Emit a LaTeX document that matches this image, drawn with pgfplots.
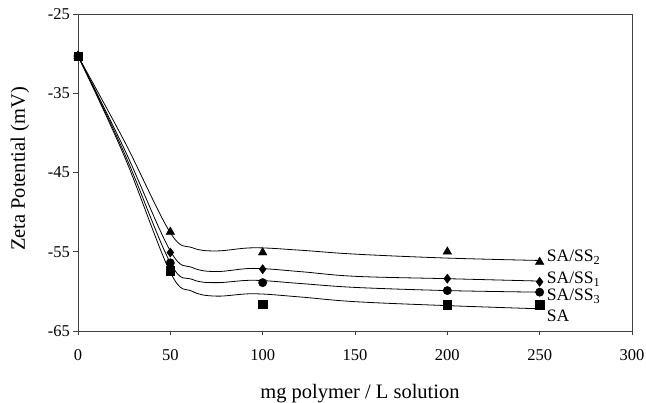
\documentclass[border=0pt]{standalone}
\usepackage{fontspec}
\setmainfont{Liberation Serif}
\usepackage{pgfplots}
\pgfplotsset{compat=1.18}
\begin{document}
\begin{tikzpicture}
\begin{axis}[
  scale only axis, width=554pt, height=317pt,
  xmin=0, xmax=300, ymin=-65, ymax=-25,
  xtick={0,50,...,300}, ytick={-65,-55,-45,-35,-25},
  tick align=outside, xtick pos=bottom, ytick pos=left,
  major tick length=4.5pt,
  tick style={black!75, line width=0.9pt},
  tick label style={font=\fontsize{16.5}{16.5}\selectfont},
  xticklabel style={yshift=-10pt},
  /pgf/number format/assume math mode=true,
  xlabel={mg polymer / L solution}, ylabel={Zeta Potential (mV)},
  label style={font=\fontsize{20.5}{20.5}\selectfont},
  xlabel style={at={(axis description cs:0.509,-0.197)}, anchor=center},
  ylabel style={at={(axis description cs:-0.1047,0.511)}, anchor=center},
  axis line style={black!75, line width=0.9pt},
  clip=false,
]
% fitted curves
\addplot[black, line width=0.8pt, smooth, tension=0.6] coordinates {
 (0,-30.3) (25,-41.0) (50,-52.6) (62,-54.5) (75,-54.9) (95,-54.5) (120,-54.8) (150,-55.3) (200,-55.8) (250,-56.1)};
\addplot[black, line width=0.8pt, smooth, tension=0.6] coordinates {
 (0,-30.3) (25,-42.0) (50,-54.9) (62,-57.0) (75,-57.5) (95,-57.1) (120,-57.5) (150,-58.1) (200,-58.4) (250,-58.7)};
\addplot[black, line width=0.8pt, smooth, tension=0.6] coordinates {
 (0,-30.3) (25,-42.5) (50,-56.4) (62,-58.5) (75,-58.9) (95,-58.6) (120,-59.0) (150,-59.5) (200,-59.9) (250,-60.1)};
\addplot[black, line width=0.8pt, smooth, tension=0.6] coordinates {
 (0,-30.3) (25,-42.9) (50,-57.6) (62,-60.0) (75,-60.6) (95,-60.3) (120,-60.7) (150,-61.3) (200,-61.8) (250,-62.2)};
% data points
\addplot[only marks, mark=triangle*, mark size=5pt, black] coordinates {
 (0,-30.3) (50,-52.5) (100,-55.1) (200,-55.0) (250,-56.3)};
\addplot[only marks, mark=diamond*, mark size=4.6pt, black] coordinates {
 (0,-30.3) (50,-55.1) (100,-57.2) (200,-58.4) (250,-58.8)};
\addplot[only marks, mark=*, mark size=4.2pt, black] coordinates {
 (0,-30.3) (50,-56.4) (100,-58.9) (200,-59.9) (250,-60.1)};
\addplot[only marks, mark=square*, mark size=4.2pt, black] coordinates {
 (0,-30.3) (50,-57.4) (100,-61.6) (200,-61.7) (250,-61.7)};
% labels
\node[anchor=base west, font=\fontsize{17.5}{17.5}\selectfont, inner sep=0pt] at (axis cs:253.8,-56.26) {SA/SS\textsubscript{2}};
\node[anchor=base west, font=\fontsize{17.5}{17.5}\selectfont, inner sep=0pt] at (axis cs:253.8,-59.0) {SA/SS\textsubscript{1}};
\node[anchor=base west, font=\fontsize{17.5}{17.5}\selectfont, inner sep=0pt] at (axis cs:253.8,-61.2) {SA/SS\textsubscript{3}};
\node[anchor=base west, font=\fontsize{17.5}{17.5}\selectfont, inner sep=0pt] at (axis cs:253.8,-63.75) {SA};
\end{axis}
\pgfresetboundingbox
\path ([xshift=-78pt,yshift=-72pt]current axis.south west) rectangle ([xshift=14pt,yshift=14pt]current axis.north east);
\end{tikzpicture}
\end{document}
